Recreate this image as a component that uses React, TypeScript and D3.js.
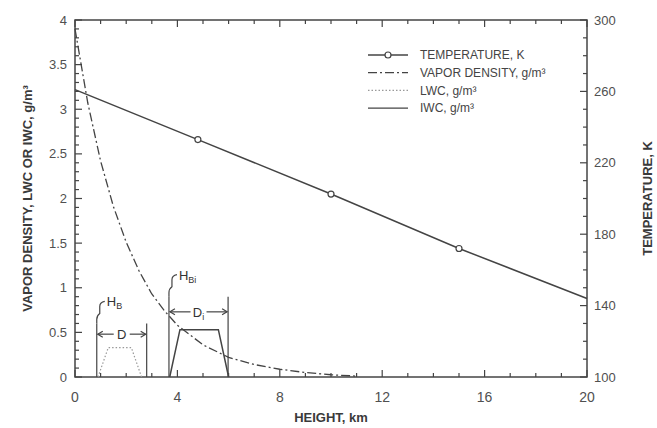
import React, { useEffect, useRef } from 'react';
import * as d3 from 'd3';

// Temperature profile (right axis, K)
const tempHeights = [0, 4.8, 10, 15, 20];
const tempValues = [261, 233, 202.5, 172, 144];
const markerHeights = [4.8, 10, 15];
const markerTemps = [233, 202.5, 172];

// Vapor density (left axis, g/m3)
const vaporHeights = [0, 0.5, 1, 1.5, 2, 2.5, 3, 3.5, 4, 5, 6, 7, 8, 9, 10, 11];
const vaporValues = [3.9, 3.07, 2.42, 1.91, 1.51, 1.19, 0.93, 0.74, 0.58, 0.36, 0.22, 0.14, 0.087, 0.05, 0.025, 0.01];

// Liquid / ice water content
const lwcHeights = [0.9, 1.3, 2.2, 2.6];
const lwcValues = [0, 0.33, 0.33, 0];
const iwcHeights = [3.7, 4.1, 5.6, 6.0];
const iwcValues = [0, 0.53, 0.53, 0];

// Ticks
const xTicks = [0, 4, 8, 12, 16, 20];
const leftTicks = [0, 0.5, 1, 1.5, 2, 2.5, 3, 3.5, 4];
const rightTicks = [100, 140, 180, 220, 260, 300];

const legendLabels = ['TEMPERATURE, K', 'VAPOR DENSITY, g/m³', 'LWC, g/m³', 'IWC, g/m³'];

const INK = '#444';
const FONT = "'Liberation Sans', Arial, Helvetica, sans-serif";

const App = () => {
    const svgRef = useRef<SVGSVGElement>(null);

    useEffect(() => {
        const width = 657, height = 428;
        const svg = d3.select(svgRef.current).attr('width', width).attr('height', height);
        svg.selectAll('*').remove();

        const x = d3.scaleLinear().domain([0, 20]).range([75, 587]);
        const yL = d3.scaleLinear().domain([0, 4]).range([377, 20]);
        const yR = d3.scaleLinear().domain([100, 300]).range([377, 20]);

        const g = svg.append('g').style('font-family', FONT);

        // ticks drawn inward from the frame (major 7px, minor 4px)
        const ticks = g.append('g').attr('stroke', INK).attr('stroke-width', 1.2);
        const xMinor = x.ticks(20);
        ticks.selectAll('.xb').data(xMinor).enter().append('line')
            .attr('x1', (d) => x(d)).attr('x2', (d) => x(d))
            .attr('y1', yL(0)).attr('y2', (d) => yL(0) - (xTicks.includes(d) ? 7 : 4));
        ticks.selectAll('.xt').data(xMinor).enter().append('line')
            .attr('x1', (d) => x(d)).attr('x2', (d) => x(d))
            .attr('y1', yL(4)).attr('y2', (d) => yL(4) + (xTicks.includes(d) ? 7 : 4));
        ticks.selectAll('.yl').data(yL.ticks(40)).enter().append('line')
            .attr('y1', (d) => yL(d)).attr('y2', (d) => yL(d))
            .attr('x1', x(0)).attr('x2', (d) => x(0) + (leftTicks.includes(d) ? 7 : 4));
        ticks.selectAll('.yr').data(yR.ticks(20)).enter().append('line')
            .attr('y1', (d) => yR(d)).attr('y2', (d) => yR(d))
            .attr('x1', x(20)).attr('x2', (d) => x(20) - (rightTicks.includes(d) ? 7 : 4));

        // tick labels
        const lab = g.append('g').attr('fill', '#505050');
        lab.selectAll('.lx').data(xTicks).enter().append('text')
            .attr('x', (d) => x(d)).attr('y', yL(0) + 25)
            .attr('text-anchor', 'middle').style('font-size', '14px').text((d) => d);
        lab.selectAll('.ll').data(leftTicks).enter().append('text')
            .attr('x', x(0) - 8).attr('y', (d) => yL(d)).attr('dy', '0.35em')
            .attr('text-anchor', 'end').style('font-size', '13px').text((d) => d3.format('~g')(d));
        lab.selectAll('.lr').data(rightTicks).enter().append('text')
            .attr('x', x(20) + 7).attr('y', (d) => yR(d)).attr('dy', '0.35em')
            .attr('text-anchor', 'start').style('font-size', '13px').text((d) => d);

        // frame
        g.append('rect')
            .attr('x', x(0)).attr('y', yL(4))
            .attr('width', x(20) - x(0)).attr('height', yL(0) - yL(4))
            .attr('fill', 'none').attr('stroke', INK).attr('stroke-width', 1.5);

        // axis titles
        const title = (tr: string, txt: string) =>
            g.append('text')
                .attr('transform', tr)
                .attr('text-anchor', 'middle').attr('dy', '0.35em')
                .style('font-size', '13px').style('font-weight', 'bold').attr('fill', '#3a3a3a')
                .text(txt);
        title(`translate(27,${(yL(0) + yL(4)) / 2}) rotate(-90)`, 'VAPOR DENSITY, LWC OR IWC, g/m³');
        title(`translate(647,${(yL(0) + yL(4)) / 2}) rotate(-90)`, 'TEMPERATURE, K');
        title(`translate(${(x(0) + x(20)) / 2},417)`, 'HEIGHT, km');

        const path = (hs: number[], vs: number[], ys: any) =>
            d3.line<number>().x((h) => x(h)).y((_, i) => ys(vs[i]))(hs);

        // temperature
        g.append('path').attr('d', path(tempHeights, tempValues, yR))
            .attr('fill', 'none').attr('stroke', INK).attr('stroke-width', 1.5);
        g.selectAll('.tmark').data(markerHeights).enter().append('circle')
            .attr('cx', (d) => x(d)).attr('cy', (_, i) => yR(markerTemps[i])).attr('r', 3)
            .attr('fill', 'white').attr('stroke', INK).attr('stroke-width', 1.2);

        // vapor density
        g.append('path').attr('d', path(vaporHeights, vaporValues, yL))
            .attr('fill', 'none').attr('stroke', INK).attr('stroke-width', 1.3)
            .attr('stroke-dasharray', '9,3,2,3');

        // LWC
        g.append('path').attr('d', path(lwcHeights, lwcValues, yL))
            .attr('fill', 'none').attr('stroke', '#999').attr('stroke-width', 1.2)
            .attr('stroke-dasharray', '1.5,2');

        // IWC
        g.append('path').attr('d', path(iwcHeights, iwcValues, yL))
            .attr('fill', 'none').attr('stroke', INK).attr('stroke-width', 1.5);

        // cloud geometry annotations
        const ann = g.append('g').attr('stroke', INK).attr('fill', 'none').attr('stroke-width', 1.2);
        const bracket = (h0: number, h1: number, top: number, arrowV: number, label: string, sub: string, hbSub: string) => {
            const x0 = x(h0), x1 = x(h1), yb = yL(0), yt = yL(top), ya = yL(arrowV);
            const xm = (x0 + x1) / 2;
            ann.append('line').attr('x1', x0).attr('x2', x0).attr('y1', yb).attr('y2', yt);
            ann.append('line').attr('x1', x1).attr('x2', x1).attr('y1', yb).attr('y2', yt);
            ann.append('line').attr('x1', x0 + 1).attr('x2', xm - 8).attr('y1', ya).attr('y2', ya);
            ann.append('line').attr('x1', xm + 8).attr('x2', x1 - 1).attr('y1', ya).attr('y2', ya);
            ann.append('path').attr('d', `M${x0 + 6},${ya - 3}L${x0 + 1},${ya}L${x0 + 6},${ya + 3}`);
            ann.append('path').attr('d', `M${x1 - 6},${ya - 3}L${x1 - 1},${ya}L${x1 - 6},${ya + 3}`);
            const t = g.append('text').attr('x', xm).attr('y', ya).attr('dy', '0.36em')
                .attr('text-anchor', 'middle').attr('fill', '#333').style('font-size', '13px');
            t.append('tspan').text(label);
            if (sub) t.append('tspan').attr('dy', '3').style('font-size', '9px').text(sub);
            // brace going up to H label
            ann.append('path').attr('d',
                `M${x0},${yt}L${x0},${yt - 4}Q${x0},${yt - 8} ${x0 + 3},${yt - 10}L${x0 + 3},${yt - 17}Q${x0 + 3},${yt - 21} ${x0 + 8},${yt - 22}`);
            const hb = g.append('text').attr('x', x0 + 10).attr('y', yt - 17)
                .attr('fill', '#333').style('font-size', '13px');
            hb.append('tspan').text('H');
            hb.append('tspan').attr('dy', '3').style('font-size', '9px').text(hbSub);
        };
        bracket(0.85, 2.8, 0.6, 0.48, 'D', '', 'B');
        bracket(3.67, 5.98, 0.9, 0.73, 'D', 'i', 'Bi');

        // legend
        const lg = g.append('g');
        legendLabels.forEach((label, i) => {
            const yy = 55 + i * 17.7;
            const l = lg.append('line').attr('x1', 368).attr('x2', 408).attr('y1', yy).attr('y2', yy)
                .attr('stroke', i === 2 ? '#999' : INK).attr('stroke-width', 1.3);
            if (i === 1) l.attr('stroke-dasharray', '9,3,2,3');
            if (i === 2) l.attr('stroke-dasharray', '1.5,2');
            if (i === 0) lg.append('circle').attr('cx', 388).attr('cy', yy).attr('r', 3)
                .attr('fill', 'white').attr('stroke', INK).attr('stroke-width', 1.2);
            lg.append('text').attr('x', 420).attr('y', yy).attr('dy', '0.35em')
                .attr('fill', '#444').style('font-size', '12px').text(label);
        });
    }, []);

    return <svg ref={svgRef} style={{ position: 'absolute', left: 0, top: 0, background: 'white' }}></svg>;
};

export default App;
